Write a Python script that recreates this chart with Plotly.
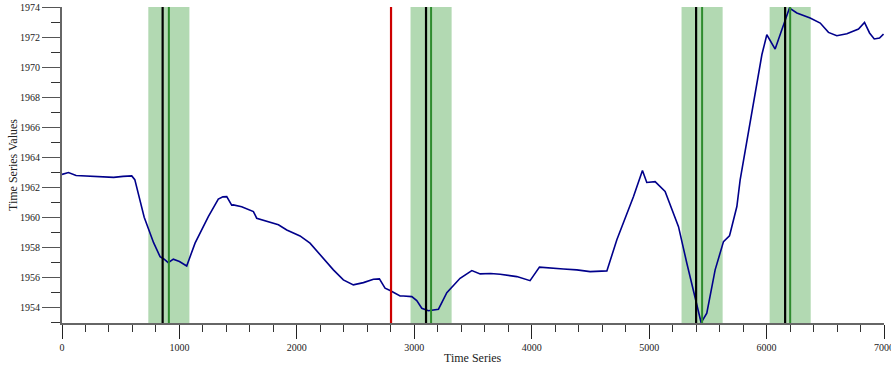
import plotly.graph_objects as go

# ---- data ----
series_x = [0, 55, 120, 200, 280, 360, 440, 520, 594, 620, 700, 780, 835, 870, 905, 948, 1000, 1062,
            1133, 1246, 1331, 1370, 1403, 1445, 1459, 1530, 1630, 1658, 1743, 1843, 1914, 2027, 2112,
            2198, 2311, 2396, 2481, 2567, 2652, 2703, 2751, 2794, 2879, 2907, 2979, 3021, 3064, 3120,
            3206, 3277, 3390, 3490, 3561, 3650, 3731, 3873, 3986, 4066, 4157, 4270, 4384, 4497, 4640,
            4725, 4867, 4943, 4980, 5051, 5136, 5193, 5250, 5321, 5392, 5443, 5491, 5562, 5633, 5684,
            5690, 5747, 5775, 5818, 5889, 5960, 6002, 6073, 6130, 6195, 6258, 6371, 6457, 6527, 6598,
            6684, 6783, 6834, 6877, 6917, 6962, 6996]
series_y = [1962.85, 1962.97, 1962.78, 1962.75, 1962.72, 1962.70, 1962.65, 1962.72, 1962.75, 1962.5,
            1960.0, 1958.3, 1957.37, 1957.2, 1956.97, 1957.2, 1957.05, 1956.75,
            1958.27, 1960.04, 1961.2, 1961.35, 1961.37, 1960.8, 1960.82, 1960.7, 1960.37, 1959.93,
            1959.71, 1959.49, 1959.15, 1958.75, 1958.27, 1957.49, 1956.49, 1955.82, 1955.49, 1955.64,
            1955.87, 1955.89, 1955.27, 1955.11, 1954.75, 1954.75, 1954.71, 1954.44, 1953.93, 1953.77,
            1953.87, 1954.97, 1955.93, 1956.44, 1956.22, 1956.25, 1956.2, 1956.04, 1955.77, 1956.67,
            1956.6, 1956.55, 1956.49, 1956.37, 1956.42,
            1958.49, 1961.37, 1963.11, 1962.31, 1962.37, 1961.71, 1960.6, 1959.37, 1956.93, 1954.71,
            1952.97, 1953.6, 1956.49, 1958.37, 1958.75, 1958.93, 1960.71, 1962.49, 1964.49, 1967.82,
            1970.82, 1972.15, 1971.2, 1972.49, 1973.93, 1973.6, 1973.27, 1972.93, 1972.31, 1972.09,
            1972.22, 1972.53, 1972.97, 1972.27, 1971.87, 1971.93, 1972.2]

band_centers = [910, 3143, 5451, 6201]
band_half_width = 175
black_lines = [857, 3100, 5400, 6158]
red_lines = [2802]
y_ticks = list(range(1954, 1975, 2))
x_ticks = list(range(0, 7001, 1000))

fig = go.Figure()
fig.add_trace(go.Scatter(x=series_x, y=series_y, mode="lines",
                         line=dict(color="#00008B", width=1.6), showlegend=False))

shapes = []
for c in band_centers:
    shapes.append(dict(type="rect", xref="x", yref="paper", x0=c - band_half_width,
                       x1=c + band_half_width, y0=0, y1=1, fillcolor="rgba(0,128,0,0.3)",
                       line=dict(width=0), layer="below"))
for c in band_centers:
    shapes.append(dict(type="line", xref="x", yref="paper", x0=c, x1=c, y0=0, y1=1,
                       line=dict(color="#2E8B2E", width=2), layer="above"))
for b in black_lines:
    shapes.append(dict(type="line", xref="x", yref="paper", x0=b, x1=b, y0=0, y1=1,
                       line=dict(color="black", width=2.2), layer="above"))
for r in red_lines:
    shapes.append(dict(type="line", xref="x", yref="paper", x0=r, x1=r, y0=0, y1=1,
                       line=dict(color="#CC0000", width=2.2), layer="above"))

serif = "Liberation Serif, Times New Roman, serif"
font = dict(family=serif, size=10, color="#222")
fig.update_layout(
    width=891, height=367,
    margin=dict(l=62, r=7, t=7, b=44, autoexpand=False),
    paper_bgcolor="white", plot_bgcolor="white",
    shapes=shapes, font=font,
    xaxis=dict(range=[0, 7000], tickvals=x_ticks, ticks="outside", ticklen=14, tickwidth=1.3,
               tickcolor="#222", showgrid=False, zeroline=False, showline=True,
               linecolor="#666", linewidth=2, automargin=False, ticklabeloverflow="allow",
               minor=dict(dtick=200, tick0=0, ticks="outside", ticklen=7, tickwidth=1, tickcolor="#333"),
               tickfont=dict(size=10)),
    yaxis=dict(range=[1952.95, 1974], tickvals=y_ticks, ticks="outside", ticklen=18, tickwidth=1.3,
               tickcolor="#555", showgrid=False, zeroline=False, showline=True,
               linecolor="#666", linewidth=2, automargin=False, ticklabeloverflow="allow",
               minor=dict(dtick=1, tick0=1953, ticks="outside", ticklen=9, tickwidth=1.3, tickcolor="#333"),
               tickfont=dict(size=10)),
    annotations=[
        dict(text="Time Series", xref="paper", yref="paper", x=0.5, y=0, yshift=-35,
             xanchor="center", yanchor="middle", showarrow=False, font=dict(family=serif, size=12)),
        dict(text="Time Series Values", xref="paper", yref="paper", x=0, y=0.5, xshift=-49,
             xanchor="center", yanchor="middle", textangle=-90, showarrow=False,
             font=dict(family=serif, size=12)),
    ],
)

fig.write_html("out.html", config={"displayModeBar": False},
               post_script="document.body.style.margin='0';document.body.style.overflow='hidden';")
